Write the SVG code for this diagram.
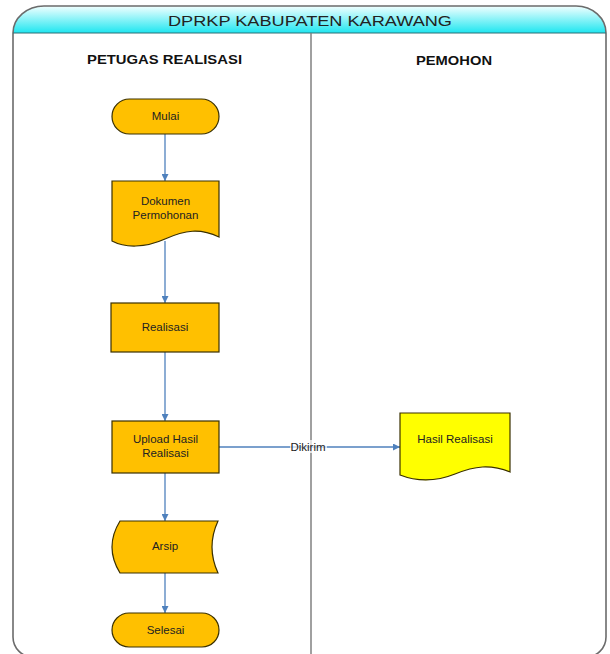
<svg xmlns="http://www.w3.org/2000/svg" width="610" height="654" viewBox="0 0 610 654">
<style>
.node{fill:#FFC000;stroke:#3a3000;stroke-width:1.2}
.doc2{fill:#FFFF00;stroke:#3a3000;stroke-width:1.2}
.t{font-family:"Liberation Sans",Arial,sans-serif;font-size:11.5px;fill:#222;text-anchor:middle}
.lane{font-family:"Liberation Sans",Arial,sans-serif;font-size:13px;font-weight:bold;fill:#111;text-anchor:middle}
.conn{stroke:#4F81BD;stroke-width:1.3;fill:none;marker-end:url(#ah)}
</style>
<defs>
<linearGradient id="hg" x1="0" y1="0" x2="0" y2="1">
<stop offset="0" stop-color="#F2FFFF"/>
<stop offset="1" stop-color="#1EE6F0"/>
</linearGradient>
<marker id="ah" viewBox="0 0 10 10" refX="10" refY="5" markerWidth="7" markerHeight="7" markerUnits="userSpaceOnUse" orient="auto">
<path d="M0,0 L10,5 L0,10 Z" fill="#4F81BD"/>
</marker>
</defs>
<rect width="610" height="654" fill="#fff"/>
<g id="pool">
<path d="M13,33 A31,27 0 0 1 44,6 H576 A30,27 0 0 1 606,33 Z" fill="url(#hg)"/>
<path d="M13,33 A31,27 0 0 1 44,6 H576 A30,27 0 0 1 606,33 V637 A20,20 0 0 1 586,657 H33 A20,20 0 0 1 13,637 Z" fill="none" stroke="#6b6b6b" stroke-width="1.6"/>
<line x1="13" y1="33" x2="606" y2="33" stroke="#2f6f74" stroke-width="1.2"/>
<line x1="311" y1="33" x2="311" y2="657" stroke="#808080" stroke-width="1.5"/>
<text x="310" y="25.5" font-family="'Liberation Sans',Arial,sans-serif" font-size="15" fill="#222" text-anchor="middle" textLength="284" lengthAdjust="spacingAndGlyphs">DPRKP KABUPATEN KARAWANG</text>
<text class="lane" x="164.5" y="64" textLength="155" lengthAdjust="spacingAndGlyphs">PETUGAS REALISASI</text>
<text class="lane" x="454" y="64.5" textLength="76" lengthAdjust="spacingAndGlyphs">PEMOHON</text>
</g>
<g id="connectors">
<line class="conn" x1="165" y1="134" x2="165" y2="181"/>
<line class="conn" x1="165" y1="241" x2="165" y2="303"/>
<line class="conn" x1="165" y1="352" x2="165" y2="421"/>
<line class="conn" x1="165" y1="473" x2="165" y2="521"/>
<line class="conn" x1="165" y1="573" x2="165" y2="613"/>
<line class="conn" x1="219" y1="447" x2="400" y2="447"/>
<rect x="290" y="440" width="37" height="13" fill="#fff" fill-opacity="0.7"/>
<text class="t" x="308" y="451">Dikirim</text>
</g>
<g id="mulai">
<rect class="node" x="112" y="99" width="107" height="35" rx="17.5"/>
<text class="t" x="165.5" y="120">Mulai</text>
</g>
<g id="dokumen">
<path class="node" d="M112,181 H219 V237 C200,228 185,230 165,239 C145,248 125,248 112,241 Z"/>
<text class="t" x="165.5" y="205">Dokumen</text>
<text class="t" x="165.5" y="218.5">Permohonan</text>
</g>
<g id="realisasi">
<rect class="node" x="111" y="303" width="108" height="49"/>
<text class="t" x="165" y="331">Realisasi</text>
</g>
<g id="upload">
<rect class="node" x="112" y="421" width="107" height="52"/>
<text class="t" x="165.5" y="443">Upload Hasil</text>
<text class="t" x="165.5" y="456.5">Realisasi</text>
</g>
<g id="arsip">
<path class="node" d="M120,521 H218 Q206,547 218,573 H120 Q104,547 120,521 Z"/>
<text class="t" x="165" y="550">Arsip</text>
</g>
<g id="selesai">
<rect class="node" x="112" y="613" width="107" height="34" rx="17"/>
<text class="t" x="165.5" y="634">Selesai</text>
</g>
<g id="hasil">
<path class="doc2" d="M400,413 H510 V472 C490,464 475,466 455,474 C435,482 418,482 400,475 Z"/>
<text class="t" x="455" y="443">Hasil Realisasi</text>
</g>
</svg>
